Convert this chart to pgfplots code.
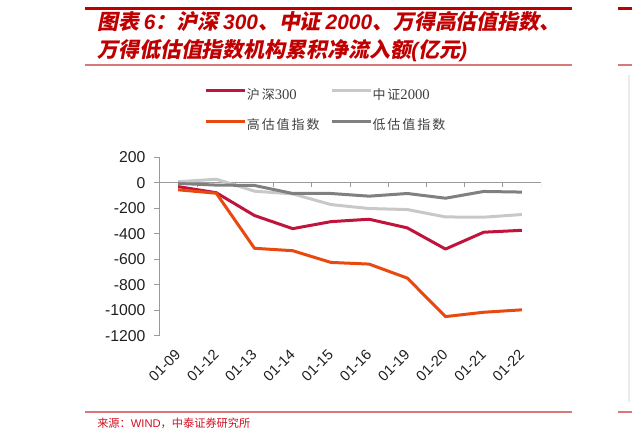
\documentclass[border=0pt]{standalone}
\usepackage{fontspec}
\setmainfont{Liberation Sans}
\newfontfamily\serif{Liberation Serif}
\newfontfamily\cjk[LetterSpace=15]{Noto Sans CJK SC}
\newfontfamily\srccjk{Noto Sans CJK SC}
\newfontfamily\tcjk[FakeSlant=0.2]{Noto Sans CJK SC}
\usepackage{pgfplots}
\usepackage{pgfplotstable}
\pgfplotsset{compat=1.18}

\definecolor{hs}{HTML}{C0143C}
\definecolor{zz}{HTML}{C8C8C8}
\definecolor{gao}{HTML}{E8490F}
\definecolor{di}{HTML}{808080}
\definecolor{titred}{HTML}{C00000}
\definecolor{linered}{HTML}{D87878}
\definecolor{srcred}{HTML}{D01020}
\definecolor{axgray}{HTML}{9A9A9A}

% cumulative net inflow, 100m yuan
\pgfplotstableread{
x   hs    zz    gao    di
0   -30    8    -55    -5
1   -78   28    -82   -18
2  -257  -66   -514   -21
3  -360  -87   -533   -84
4  -305 -171   -625   -84
5  -286 -202   -638  -105
6  -354 -210   -748   -84
7  -520 -268  -1050  -121
8  -388 -270  -1016   -68
9  -373 -249   -997   -73
}\flows

\newcommand\tn[1]{{\rmfamily\bfseries\itshape #1}}
\newcommand\ld[1]{{\serif\fontsize{11}{12}\selectfont #1}}

\begin{document}
\begin{tikzpicture}[x=0.75pt,y=0.75pt]
\path[use as bounding box] (0,0) rectangle (632,443);
\coordinate (axorigin) at (159,107.3);

% title block
\draw[titred, line width=2.25pt] (85,434.7) -- (572,434.7);
\draw[titred, line width=2.25pt] (618,434.7) -- (632,434.7);
\node[anchor=base west, inner sep=0pt, text=titred] at (97,413.5)
  {\fontsize{15.7}{18}\tcjk\bfseries 图表 \tn{6}：沪深 \tn{300}、中证 \tn{2000}、万得高估值指数、};
\node[anchor=base west, inner sep=0pt, text=titred] at (97,385.5)
  {\fontsize{15.7}{18}\tcjk\bfseries 万得低估值指数机构累积净流入额\tn{(}亿元\tn{)}};
\draw[linered, line width=1.3pt] (85,378) -- (572,378);
\draw[linered, line width=1.3pt] (618,378) -- (632,378);
\draw[black!8, line width=0.8pt] (629,368) -- (629,41);

\begin{axis}[
  at={(axorigin)}, anchor=south west,
  width=286.5pt, height=133.8pt, scale only axis,
  xmin=-0.5, xmax=9.5, ymin=-1200, ymax=200,
  axis x line*=bottom, axis y line*=left,
  x axis line style={draw=none},
  y axis line style={draw=axgray, line width=0.75pt},
  xtick=data,
  xticklabels={01-09,01-12,01-13,01-14,01-15,01-16,01-19,01-20,01-21,01-22},
  major x tick style={draw=none},
  ytick={-1200,-1000,...,200},
  yticklabels={-1200,-1000,-800,-600,-400,-200,0,200},
  tick align=outside, major tick length=3.75pt,
  major y tick style={draw=axgray, line width=0.75pt},
  tick label style={text=black!88},
  yticklabel style={font=\fontsize{11.8}{13}\selectfont, xshift=-3pt},
  xticklabel style={font=\fontsize{11}{13}\selectfont,
    xshift=-3pt, yshift=-4pt, rotate=45, anchor=north east, inner sep=1pt},
  legend style={at={(axis description cs:0.12,1.385)}, anchor=north west,
    draw=none, fill=none, inner sep=0pt, outer sep=0pt, row sep=12.8pt,
    font=\fontsize{9.75}{12}\cjk, text=black!75,
    nodes={inner sep=0pt, text height=0.8em, text depth=0.2em,
      text width=59pt, align=left}},
  legend columns=2,
  legend cell align=left,
  legend image code/.code={\draw[#1] (0pt,0.35em) -- (29.25pt,0.35em);},
  /tikz/every even column/.append style={column sep=3.75pt},
  every axis plot/.append style={line width=2.25pt, line join=round},
]
\draw[axgray, line width=0.75pt] (axis cs:-0.5,0) -- (axis cs:9.5,0);
\pgfplotsinvokeforeach{-0.5,0.5,...,9.5}{
  \draw[axgray, line width=0.75pt] (axis cs:#1,0) -- ++(0pt,-3.5pt);
}
\addplot[hs] table[x=x, y=hs] {\flows};
\addplot[zz] table[x=x, y=zz] {\flows};
\addplot[gao] table[x=x, y=gao] {\flows};
\addplot[di] table[x=x, y=di] {\flows};
\legend{沪深\ld{300}, 中证\ld{2000}, 高估值指数, 低估值指数}
\end{axis}

% source
\draw[linered, line width=1.5pt] (85,31.5) -- (572,31.5);
\draw[linered, line width=1.5pt] (618,31.5) -- (632,31.5);
\node[anchor=base west, inner sep=0pt, text=srcred] at (97,16)
  {\fontsize{8.4}{10}\srccjk 来源：{\rmfamily WIND}，中泰证券研究所};
\end{tikzpicture}
\end{document}
